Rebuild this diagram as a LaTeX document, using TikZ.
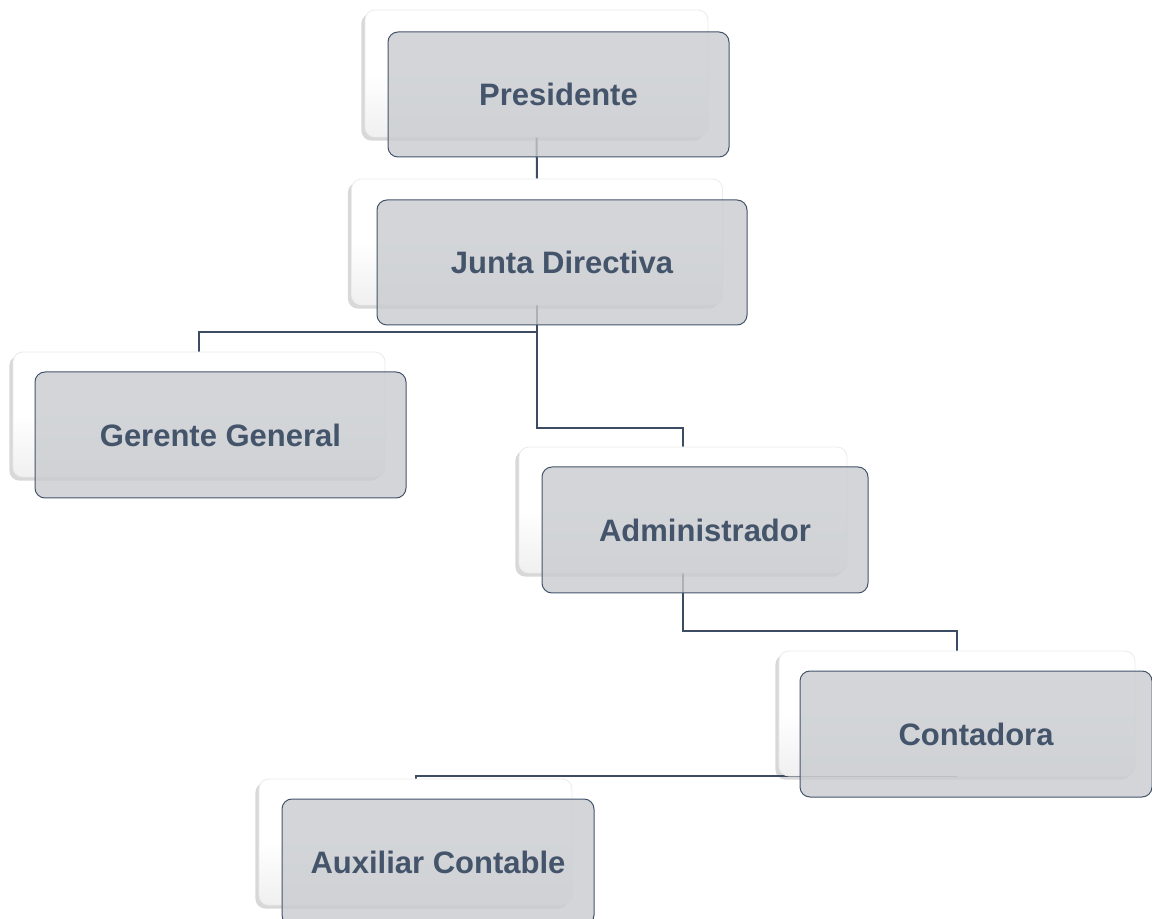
\documentclass[tikz,border=0pt]{standalone}
\usepackage{fontspec}
\setmainfont{Liberation Sans}
\usetikzlibrary{shadows,calc}
\definecolor{txt}{HTML}{44546A}
\definecolor{lin}{HTML}{3C4C62}
\definecolor{frontfill}{HTML}{C8CBCF}
\pgfdeclarelayer{bg}
\pgfsetlayers{bg,main}
\tikzset{
  backcard/.style={rectangle, rounded corners=5pt, inner sep=0pt,
    top color=white, bottom color=black!6, middle color=white,
    draw=black!8, line width=0.4pt,
    drop shadow={shadow xshift=-1.8pt, shadow yshift=-1.8pt, opacity=0.22, fill=black!70}},
  frontbox/.style={rectangle, rounded corners=5pt, inner sep=0pt,
    fill=frontfill, fill opacity=0.8, text opacity=1,
    draw=txt, line width=0.5pt, text=txt,
    font=\fontsize{15.5}{18}\selectfont\bfseries},
  conn/.style={draw=lin, line width=1pt}
}
\begin{document}
\begin{tikzpicture}[x=0.5pt,y=-0.5pt]
\useasboundingbox (0,0) rectangle (1152,919);
\clip (0,0) rectangle (1152,919);
% back cards
\node[backcard, minimum width=171.5pt, minimum height=63.5pt] (pB) at (536.5,73.5) {};
\node[backcard, minimum width=185.5pt, minimum height=63pt] (jB) at (537,242) {};
\node[backcard, minimum width=186pt, minimum height=62.5pt] (gB) at (199,414.5) {};
\node[backcard, minimum width=164pt, minimum height=63pt] (aB) at (683,510) {};
\node[backcard, minimum width=178pt, minimum height=62.5pt] (cB) at (957,713.5) {};
\node[backcard, minimum width=156.5pt, minimum height=63pt] (xB) at (415.5,842) {};
% front boxes
\node[frontbox, minimum width=170.5pt, minimum height=62.5pt] (p) at (558.5,94.5) {Presidente};
\node[frontbox, minimum width=185pt, minimum height=62.5pt] (j) at (562,262.5) {Junta Directiva};
\node[frontbox, minimum width=185.5pt, minimum height=63pt] (g) at (220.5,435) {Gerente General};
\node[frontbox, minimum width=163pt, minimum height=63pt] (a) at (705,530) {Administrador};
\node[frontbox, minimum width=176pt, minimum height=63pt] (c) at (976,734) {Contadora};
\node[frontbox, minimum width=156pt, minimum height=63pt] (x) at (438,862) {Auxiliar Contable};
% connector bend levels
\coordinate (l1) at (0,332);
\coordinate (l2) at (0,428);
\coordinate (l3) at (0,631);
\begin{pgfonlayer}{bg}
\draw[conn] (pB.south) -- (jB.north);
\draw[conn] (jB.south) -- (jB.south |- l1) -| (gB.north);
\draw[conn] (jB.south |- l1) -- (jB.south |- l2) -| (aB.north);
\draw[conn] (aB.south) -- (aB.south |- l3) -| (cB.north);
\draw[conn] (cB.south) -| (xB.north);
\end{pgfonlayer}
\end{tikzpicture}
\end{document}
